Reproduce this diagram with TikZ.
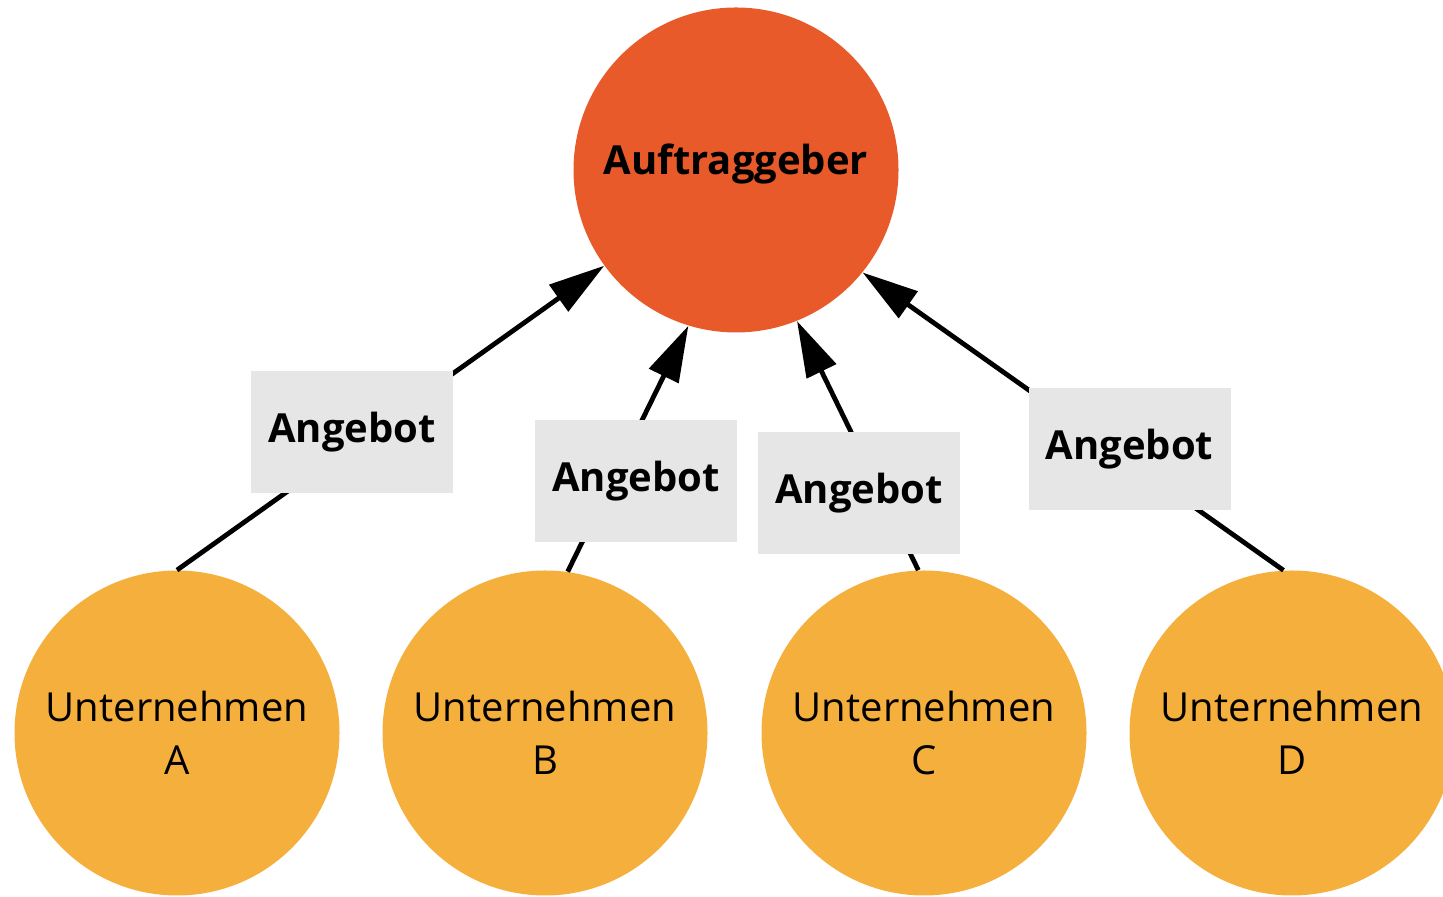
\documentclass[tikz,border=0pt]{standalone}
\usepackage{fontspec}
\setmainfont{Open Sans}
\usetikzlibrary{arrows.meta}
\definecolor{auftrag}{HTML}{E85A2A}
\definecolor{firma}{HTML}{F5AF3C}
\definecolor{boxgray}{HTML}{E6E6E6}
\tikzset{
  client/.style={circle, fill=auftrag, minimum size=162.5pt, inner sep=0pt,
    font=\fontsize{20pt}{26pt}\selectfont\bfseries},
  firm/.style={circle, fill=firma, minimum size=162.5pt, inner sep=0pt,
    align=center, font=\fontsize{20pt}{26.5pt}\selectfont},
  offer/.style={rectangle, fill=boxgray, minimum width=101pt, minimum height=61pt,
    inner sep=0pt, font=\fontsize{20pt}{24pt}\selectfont\bfseries},
  edge/.style={line width=2.4pt, -{Triangle[length=28pt,width=16pt]}}
}
\begin{document}
\begin{tikzpicture}[x=0.5pt,y=0.5pt]
\path[use as bounding box] (0,0) rectangle (1443,897);
\begin{scope}
\clip (0,0) rectangle (1443,897);
\node[client] (auf) at (736,727) {\raisebox{-2.5pt}[0pt][0pt]{Auftraggeber}};
\node[firm] (ua) at (177,164) {Unternehmen\\A};
\node[firm] (ub) at (545,164) {Unternehmen\\B};
\node[firm] (uc) at (924,164) {Unternehmen\\C};
\node[firm] (ud) at (1292,164) {Unternehmen\\D};
\end{scope}
\draw[edge] (ua.90) -- (auf.216.4);
\draw[edge] (ub.82.2) -- (auf.253.1);
\draw[edge] (uc.92.1) -- (auf.292);
\draw[edge] (ud.93.2) -- (auf.321);
\node[offer] (o1) at (352,465) {Angebot};
\node[offer] (o2) at (636,415.5) {Angebot};
\node[offer] (o3) at (859,403.5) {Angebot};
\node[offer] (o4) at (1129.5,447.5) {Angebot};
\end{tikzpicture}
\end{document}
